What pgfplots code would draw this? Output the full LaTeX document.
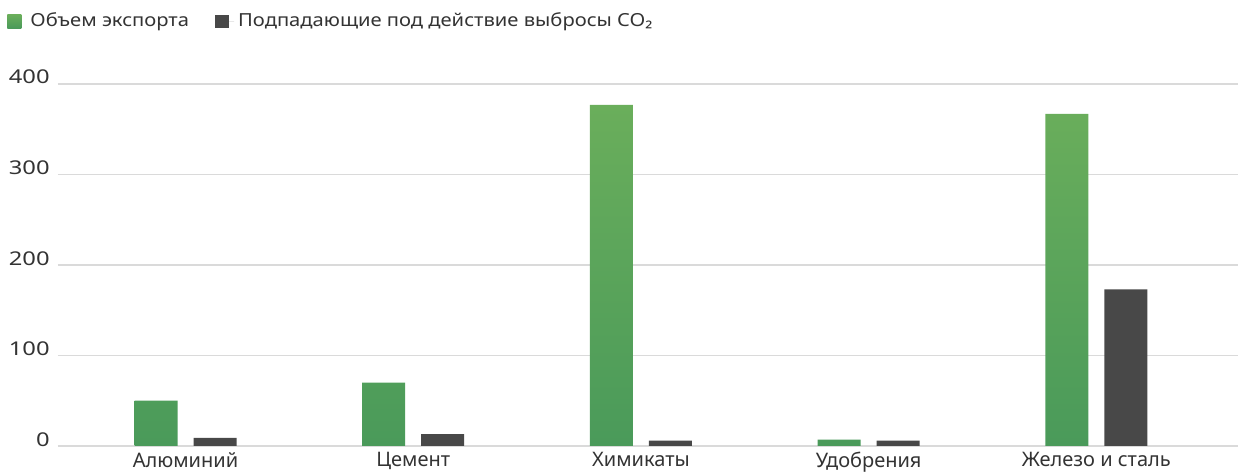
\documentclass[border=0pt]{standalone}
\usepackage{pgfplots}
\pgfplotsset{compat=1.18}
\usepackage{fontspec}
\setmainfont{Noto Sans}
\newfontfamily\numfont[FakeStretch=1.25]{Noto Sans}
\newfontfamily\legfont[FakeStretch=1.12]{Noto Sans}
\definecolor{gtop}{HTML}{6AAE5B}
\definecolor{gbot}{HTML}{4A9A5A}
\definecolor{dgray}{HTML}{484848}
\definecolor{gridc}{HTML}{DADADA}
\definecolor{txt}{HTML}{333333}
\begin{document}
\begin{tikzpicture}
\path[use as bounding box] (-29bp,-13bp) rectangle (590bp,223bp);
\begin{axis}[
  scale only axis,
  width=590bp, height=181bp,
  ymin=0, ymax=400,
  xmin=-0.56, xmax=4.622,
  ytick={0,100,200,300,400},
  xtick={0,1,2,3,4},
  xticklabels={Алюминий,Цемент,Химикаты,Удобрения,Железо и сталь},
  ymajorgrids,
  grid style={gridc, line width=0.6bp},
  axis line style={draw=none},
  axis x line*=bottom,
  x axis line style={draw=gridc, line width=0.6bp},
  major tick length=0,
  tick style={draw=none},
  ybar=8bp, bar width=21.5bp,
  yticklabel style={anchor=base east, inner sep=0pt, xshift=-4bp, font=\numfont\fontsize{9.5bp}{11bp}\selectfont, text=txt},
  xticklabel style={anchor=north, inner sep=0pt, yshift=-3bp, font=\fontsize{10bp}{12bp}\selectfont, text=txt},
  /pgf/number format/assume math mode=true,
  legend style={at={(-0.043,1.207)}, anchor=north west, draw=none, fill=none,
    legend columns=2, font=\legfont\fontsize{9bp}{11bp}\selectfont, text=txt,
    /tikz/every even column/.append style={column sep=11bp},
    inner sep=0pt, outer sep=0pt},
  legend image code/.code={\fill[#1] (0bp,-3.4bp) rectangle (7bp,3.4bp); \path (0bp,0bp) -- (9.6bp,0bp);},
  legend cell align=left,
]
\addplot[draw=none, top color=gtop, bottom color=gbot, shading angle=0] coordinates {(0,50) (1,70) (2,377) (3,7) (4,367)};
\addlegendentry{Объем экспорта}
\addplot[draw=none, fill=dgray] coordinates {(0,9) (1,13) (2,6) (3,6) (4,173)};
\addlegendentry{Подпадающие под действие выбросы CO₂}
\end{axis}
\end{tikzpicture}
\end{document}
